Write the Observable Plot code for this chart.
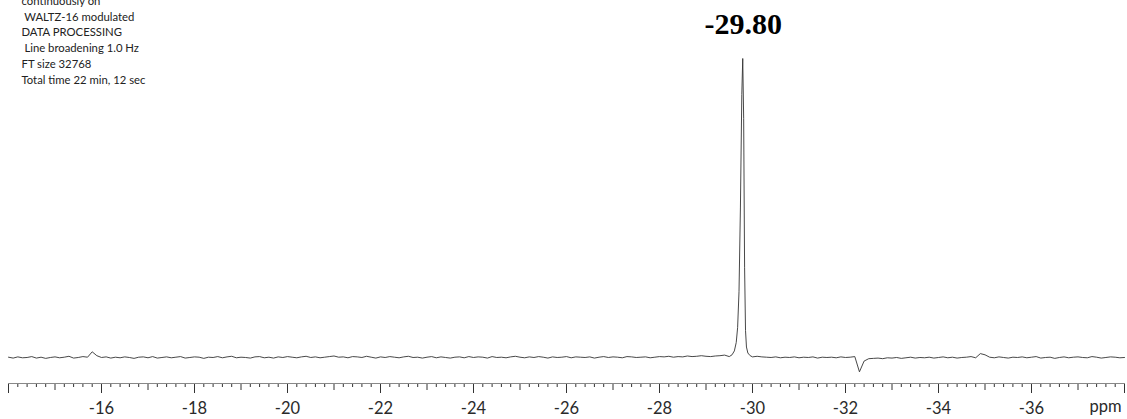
<!DOCTYPE html>
<html>
<head>
<meta charset="utf-8">
<script src="https://cdn.jsdelivr.net/npm/d3@7"></script>
<script src="https://cdn.jsdelivr.net/npm/@observablehq/plot@0.6"></script>
<style>
  html, body { margin: 0; padding: 0; background: #fff; }
  #chart { width: 1127px; height: 419px; overflow: hidden; }
</style>
</head>
<body>
<div id="chart"></div>
<script>
// ---- Data ----
// Baseline samples every 0.1 ppm from -14.0 to -38.0 (null where the main peak table takes over)
const baselineStart = -14.0;
const baselineStep = -0.1;
const baselineIntensity = [
  0.1,-0.2,0.2,-0.1,0.0,0.3,-0.2,0.1,-0.3,0.0,
  0.2,-0.1,0.1,0.4,-0.2,0.0,0.3,0.1,1.9,0.6,
  0.0,0.2,-0.2,0.1,-0.1,0.2,0.0,-0.3,0.1,0.2,
  -0.1,0.3,-0.2,0.0,0.2,-0.1,0.1,0.3,-0.2,0.0,
  0.2,0.1,-0.3,0.1,0.0,0.3,-0.1,0.2,0.4,-0.1,
  0.1,0.0,-0.2,0.2,0.3,-0.1,0.1,-0.2,0.2,0.0,
  0.3,0.1,-0.1,0.2,0.4,0.0,0.2,-0.1,0.1,0.3,
  0.5,0.1,0.2,-0.1,0.3,0.2,0.0,0.4,0.1,-0.2,
  0.2,0.0,0.3,0.1,-0.1,0.2,0.4,0.0,0.1,-0.2,
  0.1,0.3,-0.1,0.2,0.0,-0.2,0.1,0.2,-0.1,0.3,
  0.0,0.2,0.1,-0.2,0.3,0.0,0.1,-0.1,0.2,0.4,
  0.1,-0.1,0.2,0.0,0.3,0.1,-0.2,0.2,0.0,0.1,
  0.3,-0.1,0.2,0.1,0.0,0.2,-0.2,0.1,0.3,0.0,
  0.2,0.1,-0.1,0.3,0.2,0.0,0.1,0.2,-0.1,0.1,
  0.3,0.2,0.4,0.1,0.3,0.2,0.5,0.3,0.4,0.6,
  0.4,0.3,0.5,0.6,0.8,null,null,null,null,null,
  null,0.4,0.2,0.1,0.0,0.2,-0.1,0.1,0.0,0.2,
  -0.1,0.1,0.0,0.2,-0.2,0.1,0.0,0.1,-0.1,0.2,
  0.0,0.1,0.3,-4.8,-1.2,-0.4,-0.3,-0.2,-0.4,-0.1,
  -0.2,0.0,-0.3,-0.1,0.1,-0.2,0.0,-0.1,0.1,-0.2,
  0.0,0.2,-0.1,0.1,-0.2,0.0,0.1,0.3,-0.1,1.3,
  0.9,0.1,-0.1,0.2,0.0,-0.2,0.1,0.0,0.2,-0.1,
  0.1,0.3,-0.2,0.0,0.1,-0.3,0.0,0.2,-0.1,0.1,
  0.2,0.0,-0.1,0.3,0.1,-0.2,0.0,0.2,0.1,-0.1,
  0.0
];

// Main resonance, sampled more finely
const peakPpm = [-29.50,-29.56,-29.61,-29.65,-29.68,-29.71,-29.74,-29.77,-29.79,-29.81,-29.83,-29.85,-29.87,-29.90,-29.95,-30.00];
const peakIntensity = [0.3,0.9,2.2,5,10,22,50,88,100,80,30,9,3.5,1.5,0.6,0.2];

const peakLabels = [{ppm: -29.80, label: "-29.80"}];

const majorTicks = [-14,-16,-18,-20,-22,-24,-26,-28,-30,-32,-34,-36,-38];
const mediumTicks = [-15,-17,-19,-21,-23,-25,-27,-29,-31,-33,-35,-37];
const xDomain = [-14, -38];
const yDomain = [-8.7, 100];

const infoLines = [
  "continuously on",
  "\u00a0WALTZ-16 modulated",
  "DATA PROCESSING",
  "\u00a0Line broadening 1.0 Hz",
  "FT size 32768",
  "Total time 22 min, 12 sec"
];

// ---- Build table ----
const spectrum = [];
baselineIntensity.forEach((v, i) => {
  if (v !== null) spectrum.push({ppm: +(baselineStart + i * baselineStep).toFixed(2), intensity: v});
});
peakPpm.forEach((p, i) => spectrum.push({ppm: p, intensity: peakIntensity[i]}));
spectrum.sort((a, b) => b.ppm - a.ppm);

const minorTicks = d3.range(0, 121).map(i => +(-14 - i * 0.2).toFixed(1))
  .filter(t => !majorTicks.includes(t) && !mediumTicks.includes(t));

const tickColor = "#333";

const chart = Plot.plot({
  width: 1127,
  height: 419,
  marginLeft: 8,
  marginRight: 3,
  marginTop: 58,
  marginBottom: 36,
  style: {fontFamily: "Lato, sans-serif", fontSize: "16px", background: "#fff", color: "#222"},
  x: {domain: xDomain},
  y: {domain: yDomain, axis: null},
  marks: [
    Plot.axisX({ticks: minorTicks, tickSize: 4, tickFormat: () => "", stroke: tickColor, label: null}),
    Plot.axisX({ticks: mediumTicks, tickSize: 7, tickFormat: () => "", stroke: tickColor, label: null}),
    Plot.axisX({ticks: majorTicks, tickSize: 10, tickPadding: 9, tickFormat: d => d === -14 || d === -38 ? "" : String(d), stroke: tickColor, fill: "#2a2a2a", fontSize: 16.5, label: null}),
    Plot.frame({anchor: "bottom", stroke: "#888"}),
    Plot.text(["ppm"], {frameAnchor: "bottom-right", dx: -3, dy: 23, textAnchor: "end", lineAnchor: "middle", fontSize: 16.5, fill: "#2a2a2a"}),
    Plot.line(spectrum, {x: "ppm", y: "intensity", stroke: "#333", strokeWidth: 0.9}),
    Plot.text(peakLabels, {x: "ppm", text: "label", frameAnchor: "top", lineAnchor: "middle", dy: -34, fontFamily: "Liberation Serif", fontWeight: "bold", fontSize: 30, fill: "#000"}),
    Plot.text([infoLines.join("\n")], {frameAnchor: "top-left", dx: 13, dy: -65, textAnchor: "start", lineAnchor: "top", lineHeight: 1.4, fontSize: 11.3, fill: "#222"})
  ]
});
document.getElementById("chart").appendChild(chart);
</script>
</body>
</html>
